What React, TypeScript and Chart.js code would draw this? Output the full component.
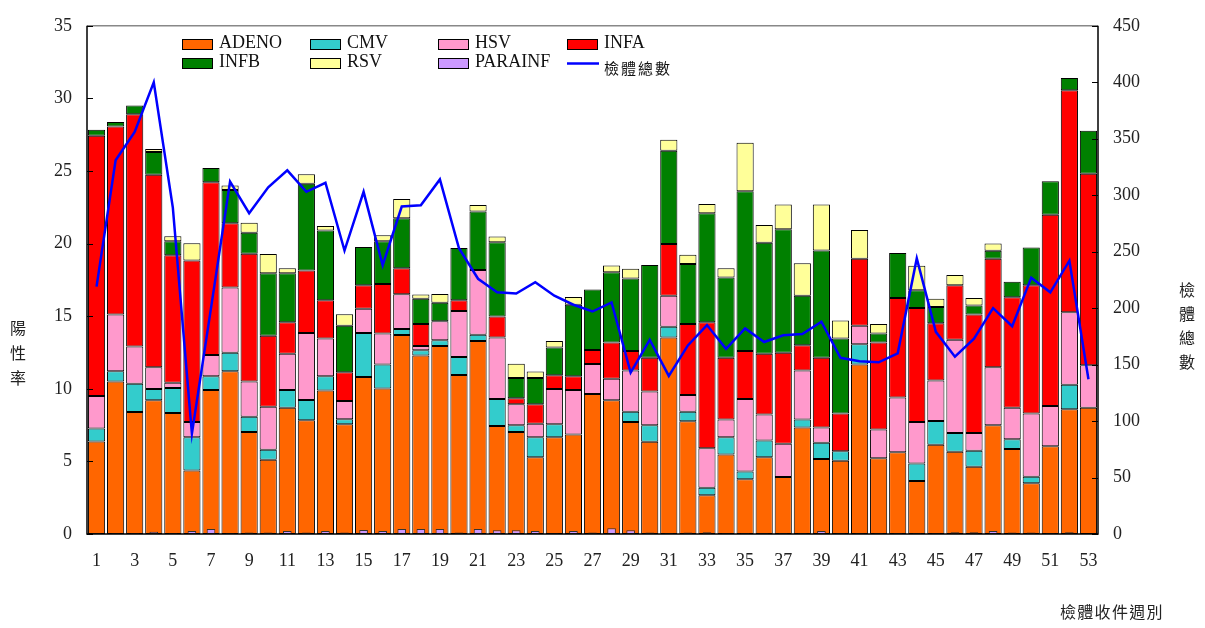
import { useEffect, useRef } from 'react';
import { Chart, registerables } from 'chart.js';

Chart.register(...registerables);

const weeks = ['1','2','3','4','5','6','7','8','9','10','11','12','13','14','15','16','17','18','19','20','21','22','23','24','25','26','27','28','29','30','31','32','33','34','35','36','37','38','39','40','41','42','43','44','45','46','47','48','49','50','51','52','53'];

const adeno = [6.37,10.51,8.40,9.21,8.33,4.37,9.91,11.21,7.02,5.12,8.70,7.84,9.88,7.56,10.81,10.02,13.70,12.30,12.95,10.95,13.30,7.44,7.02,5.28,6.67,6.86,9.65,9.21,7.72,6.35,13.53,7.77,2.67,5.47,3.77,5.28,3.93,7.33,5.16,5.05,11.67,5.21,5.63,3.65,6.14,5.67,4.63,7.49,5.86,3.49,6.05,8.60,8.70];
const cmv = [0.89,0.70,1.95,0.77,1.72,2.30,0.95,1.28,1.05,0.69,1.21,1.39,0.98,0.35,3.03,1.65,0.42,0.35,0.40,1.24,0.42,1.86,0.47,1.39,0.89,0,0,0,0.70,1.14,0.75,0.65,0.52,1.20,0.53,1.16,0,0.55,1.12,0.65,1.40,0,0,1.21,1.65,1.28,1.11,0,0.67,0.46,0,1.68,0];
const hsv = [2.25,3.91,2.56,1.51,0.37,1.05,1.47,4.49,2.44,2.96,2.51,4.61,2.61,1.25,1.67,2.14,2.39,0.30,1.30,3.16,4.47,4.23,1.44,0.93,2.42,3.05,2.05,1.49,2.84,2.32,2.12,1.16,2.72,1.21,5.00,1.79,2.28,3.38,1.05,0,1.28,1.98,3.77,2.86,2.79,6.42,1.21,4.00,2.17,4.35,2.76,5.00,2.93];
const infa = [17.91,12.95,16.00,13.25,8.77,11.12,11.90,4.42,8.79,4.88,2.16,4.30,2.62,1.98,1.63,3.40,1.79,1.52,0,0.74,0,1.45,0.42,1.33,0.95,0.95,0.97,2.49,1.34,2.33,3.58,4.89,8.67,4.26,3.30,4.19,6.28,1.74,4.81,2.60,4.60,6.00,6.86,7.84,3.93,3.77,8.17,7.46,7.60,8.84,13.17,15.28,13.18];
const infb = [0.42,0.30,0.60,1.56,0.97,0,0.98,2.30,1.44,4.30,3.37,5.98,4.82,3.21,2.63,2.95,3.44,1.74,1.28,3.61,4.02,5.11,1.39,1.81,1.91,4.93,4.17,4.83,5.00,6.39,6.42,4.13,7.51,5.53,11.00,7.63,8.49,3.40,7.39,5.17,0,0.62,3.09,1.23,1.12,0,0.62,0.56,1.07,2.60,2.32,0.84,2.96];
const rsv = [0,0,0,0.21,0.35,1.18,0,0.30,0.70,1.33,0.35,0.65,0.30,0.79,0,0.42,1.33,0.28,0.60,0,0.44,0.40,0.98,0.45,0.46,0.54,0,0.47,0.66,0,0.76,0.63,0.63,0.63,3.35,1.23,1.72,2.25,3.17,1.23,1.98,0.66,0,1.68,0.58,0.70,0.52,0.49,0,0,0,0,0];
const parainf = [0.05,0.05,0.05,0.15,0.05,0.2,0.35,0.05,0.1,0.1,0.2,0.1,0.2,0.1,0.28,0.2,0.35,0.35,0.35,0.1,0.35,0.25,0.25,0.2,0.05,0.2,0.1,0.4,0.25,0.1,0.05,0.1,0.12,0.05,0.05,0.05,0.05,0.05,0.2,0.05,0.05,0.05,0.05,0.05,0.05,0.12,0.12,0.2,0.1,0.1,0.05,0.12,0];
const totals = [219,331,356,400,289,89,200,312,284,307,322,303,311,251,303,238,290,291,314,253,226,214,213,223,211,203,197,205,143,172,140,167,185,164,182,170,176,177,188,156,153,152,160,244,179,157,173,200,184,227,214,242,137];

const leftTicks = [0,5,10,15,20,25,30,35];
const rightTicks = [0,50,100,150,200,250,300,350,400,450];

const seriesNames = ['ADENO','CMV','HSV','INFA','INFB','RSV','PARAINF','檢體總數'];
const seriesColors = ['#FF6600','#33CCCC','#FF99CC','#FF0000','#008000','#FFFF99','#CC99FF','#0000FF'];

const leftTitle = '陽性率';
const rightTitle = '檢體總數';
const bottomTitle = '檢體收件週別';

const SERIF = "'Liberation Serif', 'Times New Roman', serif";
const CJK = "'Noto Sans CJK TC', 'Noto Sans CJK SC', sans-serif";

const decor = {
  id: 'decor',
  afterDatasetsDraw(chart: any) {
    const { ctx, chartArea: a, scales } = chart;
    ctx.save();
    ctx.lineWidth = 1.5;
    ctx.strokeStyle = '#888';
    ctx.beginPath();
    ctx.moveTo(a.left, a.top);
    ctx.lineTo(a.right, a.top);
    ctx.stroke();
    ctx.strokeStyle = '#000';
    ctx.beginPath();
    ctx.moveTo(a.left, a.top);
    ctx.lineTo(a.left, a.bottom);
    ctx.lineTo(a.right, a.bottom);
    ctx.lineTo(a.right, a.top);
    ctx.stroke();
    ctx.lineWidth = 1;
    ctx.beginPath();
    leftTicks.forEach((v) => {
      const y = Math.round(scales.y.getPixelForValue(v)) + 0.5;
      ctx.moveTo(a.left, y);
      ctx.lineTo(a.left + 6, y);
    });
    rightTicks.forEach((v) => {
      const y = Math.round(scales.y1.getPixelForValue(v)) + 0.5;
      ctx.moveTo(a.right, y);
      ctx.lineTo(a.right - 6, y);
    });
    ctx.stroke();
    ctx.restore();
  },
  afterDraw(chart: any) {
    const { ctx } = chart;
    ctx.save();
    const cols = [182, 310, 438, 567];
    const rows = [39, 58];
    ctx.textAlign = 'left';
    ctx.textBaseline = 'alphabetic';
    seriesNames.forEach((name, i) => {
      const x = cols[i % 4];
      const y = rows[Math.floor(i / 4)];
      if (i < 7) {
        ctx.fillStyle = seriesColors[i];
        ctx.fillRect(x, y, 31, 11);
        ctx.strokeStyle = '#000';
        ctx.lineWidth = 1;
        ctx.strokeRect(x + 0.5, y + 0.5, 30, 10);
        ctx.fillStyle = '#111';
        ctx.font = `18px ${SERIF}`;
        ctx.fillText(name, x + 37, y + 9);
      } else {
        ctx.strokeStyle = seriesColors[i];
        ctx.lineWidth = 2.5;
        ctx.beginPath();
        ctx.moveTo(x, y + 5.5);
        ctx.lineTo(x + 32, y + 5.5);
        ctx.stroke();
        ctx.fillStyle = '#111';
        ctx.font = `15px ${CJK}`;
        ctx.textBaseline = 'middle';
        Array.from(name).forEach((ch, k) => ctx.fillText(ch, x + 37 + k * 17, y + 10));
        ctx.textBaseline = 'alphabetic';
      }
    });
    ctx.fillStyle = '#222';
    ctx.font = `16px ${CJK}`;
    ctx.textAlign = 'center';
    ctx.textBaseline = 'middle';
    Array.from(leftTitle).forEach((ch, k) => ctx.fillText(ch, 18, 328 + k * 25));
    Array.from(rightTitle).forEach((ch, k) => ctx.fillText(ch, 1187, 290 + k * 24));
    ctx.textAlign = 'left';
    Array.from(bottomTitle).forEach((ch, k) => ctx.fillText(ch, 1060 + k * 17.3, 612));
    ctx.restore();
  },
};

export default function App() {
  const ref = useRef<HTMLCanvasElement>(null);
  useEffect(() => {
    const bar = (i: number, data: number[]) => ({
      type: 'bar' as const,
      label: seriesNames[i],
      data,
      backgroundColor: seriesColors[i],
      borderColor: '#000',
      borderWidth: 1,
      borderSkipped: false,
      barPercentage: 0.9,
      categoryPercentage: 1,
      stack: 'main',
      yAxisID: 'y',
      order: 1,
    });
    const chart = new Chart(ref.current as HTMLCanvasElement, {
      type: 'bar',
      data: {
        labels: weeks,
        datasets: [
          bar(0, adeno),
          bar(1, cmv),
          bar(2, hsv),
          bar(3, infa),
          bar(4, infb),
          bar(5, rsv),
          {
            type: 'bar',
            label: seriesNames[6],
            data: parainf,
            backgroundColor: seriesColors[6],
            borderColor: '#333',
            borderWidth: 1,
            borderSkipped: false,
            barPercentage: 0.45,
            categoryPercentage: 1,
            grouped: false,
            stack: 'para',
            yAxisID: 'y',
            order: 0,
          },
          {
            type: 'line',
            label: seriesNames[7],
            data: totals,
            borderColor: seriesColors[7],
            borderWidth: 2.5,
            pointRadius: 0,
            tension: 0,
            fill: false,
            yAxisID: 'y1',
            order: -1,
          },
        ] as any,
      },
      options: {
        responsive: false,
        animation: false,
        devicePixelRatio: 1,
        layout: { padding: { top: 18, left: 0, right: 0, bottom: 0 } },
        plugins: { legend: { display: false }, tooltip: { enabled: false } },
        scales: {
          x: {
            type: 'category',
            stacked: true,
            offset: true,
            grid: { display: false, drawTicks: false },
            border: { display: false },
            ticks: {
              autoSkip: false,
              maxRotation: 0,
              minRotation: 0,
              padding: 16,
              color: '#222',
              font: { family: SERIF, size: 18 },
              callback: (_v: any, i: number) => (i % 2 === 0 ? weeks[i] : ''),
            },
            afterFit: (s: any) => { s.height = 94; },
          },
          y: {
            position: 'left',
            stacked: true,
            min: 0,
            max: 35,
            grid: { display: false, drawTicks: false },
            border: { display: false },
            ticks: { stepSize: 5, padding: 15, color: '#222', font: { family: SERIF, size: 18 } },
            afterFit: (s: any) => { s.width = 87; },
          },
          y1: {
            position: 'right',
            min: 0,
            max: 450,
            grid: { display: false, drawTicks: false },
            border: { display: false },
            ticks: { stepSize: 50, padding: 15, color: '#222', font: { family: SERIF, size: 18 } },
            afterFit: (s: any) => { s.width = 107; },
          },
        } as any,
      },
      plugins: [decor],
    });
    return () => chart.destroy();
  }, []);
  return (
    <div style={{ position: 'absolute', left: 0, top: 0, width: 1205, height: 628, background: '#fff' }}>
      <canvas ref={ref} width={1205} height={628} style={{ display: 'block', width: 1205, height: 628 }} />
    </div>
  );
}
